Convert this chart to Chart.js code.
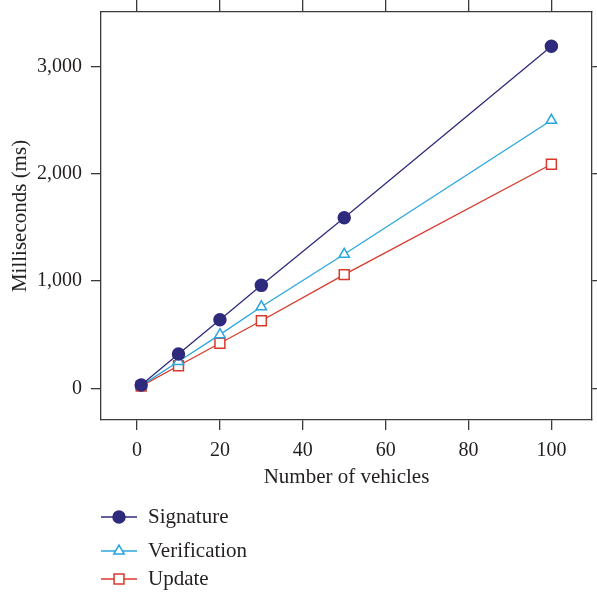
<!DOCTYPE html>
<html>
<head>
<meta charset="utf-8">
<script src="https://cdn.jsdelivr.net/npm/chart.js@4/dist/chart.umd.min.js"></script>
<style>
  body { margin: 0; background: #fff; }
  #wrap { width: 597px; height: 593px; }
</style>
</head>
<body>
<div id="wrap"><canvas id="chart" width="597" height="593"></canvas></div>
<script>
// data
const vehicles = [1, 10, 20, 30, 50, 100];
const signature = [30, 320, 640, 960, 1590, 3190];
const verification = [25, 250, 500, 760, 1250, 2500];
const update = [20, 210, 420, 630, 1060, 2090];
const xTicks = [0, 20, 40, 60, 80, 100];
const yTicks = [0, 1000, 2000, 3000];

const FONT = "'Liberation Serif', 'DejaVu Serif', serif";
const TEXT = "#231f20";
const AXIS = "#3a3a3a";

function pts(ys) {
    return vehicles.map((x, i) => ({ x: x, y: ys[i] }));
}

const series = [
    { label: "Signature", data: pts(signature), color: "#2e2a7c", style: "circle", radius: 6, fill: "#2e2a7c" },
    { label: "Verification", data: pts(verification), color: "#29a6df", style: "triangle", radius: 6, fill: "#ffffff" },
    { label: "Update", data: pts(update), color: "#d8392b", style: "rect", radius: 7, fill: "#ffffff" }
];

const setTicks = list => scale => { scale.ticks = list.map(v => ({ value: v })); };

function drawMarker(ctx, style, r, x, y) {
    ctx.beginPath();
    if (style === "circle") {
        ctx.arc(x, y, r, 0, Math.PI * 2);
    } else if (style === "triangle") {
        ctx.moveTo(x, y - r);
        ctx.lineTo(x + r * Math.sin(Math.PI * 2 / 3), y + r * 0.5);
        ctx.lineTo(x - r * Math.sin(Math.PI * 2 / 3), y + r * 0.5);
        ctx.closePath();
    } else {
        const s = r * Math.SQRT1_2;
        ctx.rect(x - s, y - s, 2 * s, 2 * s);
    }
    ctx.fill();
    ctx.stroke();
}

// legend stacked under the axis, drawn by hand
const legendRows = [517, 551, 579];
const legendPlugin = {
    id: "stackedLegend",
    afterDraw(chart) {
        const ctx = chart.ctx;
        ctx.save();
        series.forEach((s, i) => {
            const y = legendRows[i];
            ctx.strokeStyle = s.color;
            ctx.lineWidth = 1.3;
            ctx.beginPath();
            ctx.moveTo(101, y);
            ctx.lineTo(137, y);
            ctx.stroke();
            ctx.fillStyle = s.fill;
            ctx.lineWidth = 1.5;
            drawMarker(ctx, s.style, s.radius, 119, y);
            ctx.fillStyle = TEXT;
            ctx.font = "21px " + FONT;
            ctx.textBaseline = "middle";
            ctx.textAlign = "left";
            ctx.fillText(s.label, 148, y);
        });
        ctx.restore();
    }
};

const hiddenAxis = (pos, len, list) => ({
    type: "linear",
    position: pos,
    ticks: { display: false },
    grid: { drawOnChartArea: false, drawTicks: true, tickLength: len, color: AXIS, lineWidth: 1.3 },
    border: { display: true, color: AXIS, width: 1.3 },
    afterBuildTicks: setTicks(list),
    afterFit: s => {
        if (pos === "top") s.height = len; else s.width = len;
        s.paddingTop = s.paddingBottom = s.paddingLeft = s.paddingRight = 0;
    }
});

new Chart(document.getElementById("chart").getContext("2d"), {
    type: "line",
    data: {
        datasets: series.map(s => ({
            label: s.label,
            data: s.data,
            borderColor: s.color,
            borderWidth: 1.3,
            backgroundColor: s.fill,
            pointStyle: s.style,
            pointRadius: s.radius,
            pointBackgroundColor: s.fill,
            pointBorderColor: s.color,
            pointBorderWidth: 1.5,
            fill: false,
            tension: 0,
            xAxisID: "x",
            yAxisID: "y"
        }))
    },
    options: {
        responsive: false,
        animation: false,
        layout: { autoPadding: false, padding: { left: 0, right: 0, top: 0, bottom: 103 } },
        plugins: { legend: { display: false }, tooltip: { enabled: false } },
        scales: {
            x: {
                type: "linear",
                position: "bottom",
                min: -8.7,
                max: 109.8,
                afterBuildTicks: setTicks(xTicks),
                ticks: { color: TEXT, font: { family: FONT, size: 20 }, padding: 9 },
                grid: { drawOnChartArea: false, drawTicks: true, tickLength: 10, color: AXIS, lineWidth: 1.3 },
                border: { display: true, color: AXIS, width: 1.3 },
                title: { display: true, text: "Number of vehicles", color: TEXT, font: { family: FONT, size: 21 }, padding: { top: 0, bottom: 0 } },
                afterFit: s => { s.height = 70; s.paddingLeft = s.paddingRight = 0; }
            },
            x2: Object.assign(hiddenAxis("top", 12, xTicks), { min: -8.7, max: 109.8 }),
            y: {
                type: "linear",
                position: "left",
                min: -296,
                max: 3510,
                afterBuildTicks: setTicks(yTicks),
                ticks: {
                    color: TEXT,
                    font: { family: FONT, size: 20 },
                    padding: 9,
                    callback: v => v.toLocaleString("en-US")
                },
                grid: { drawOnChartArea: false, drawTicks: true, tickLength: 10, color: AXIS, lineWidth: 1.3 },
                border: { display: true, color: AXIS, width: 1.3 },
                title: { display: true, text: "Milliseconds (ms)", color: TEXT, font: { family: FONT, size: 21 }, padding: { top: 8, bottom: 0 } },
                afterFit: s => { s.width = 101; s.paddingTop = s.paddingBottom = 0; }
            },
            y2: Object.assign(hiddenAxis("right", 5, yTicks), { min: -296, max: 3510 })
        }
    },
    plugins: [legendPlugin]
});
</script>
</body>
</html>
